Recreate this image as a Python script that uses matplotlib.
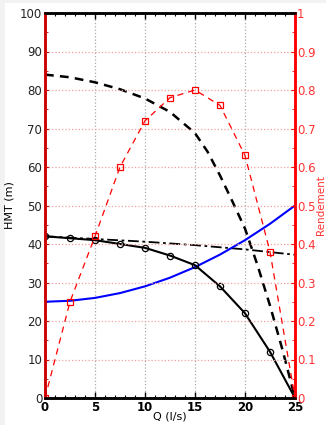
import matplotlib
matplotlib.use("Agg")
import matplotlib.pyplot as plt
from matplotlib.patches import Rectangle

# pump curve (measured points)
q_pts = [0, 2.5, 5, 7.5, 10, 12.5, 15, 17.5, 20, 22.5, 25]
hmt_pump = [42, 41.5, 41, 40, 39, 37, 34.5, 29, 22, 12, 0]

# efficiency
rend = [0, 0.25, 0.42, 0.60, 0.72, 0.78, 0.80, 0.76, 0.63, 0.38, 0]

# system curve
hmt_reseau = [25, 25.25, 26, 27.25, 29, 31.25, 34, 37.25, 41, 45.25, 50]

# dashed black curve
q_dash = [0, 2.5, 5, 7.5, 10, 12.5, 15, 16.25, 17.5, 18.75, 20, 21.25, 22.5, 23.75, 25]
hmt_dash = [84, 83.3, 82, 80.2, 77.8, 74.3, 68.8, 64, 57.8, 51, 44, 34.5, 24, 12.5, 0]

# dash-dot black curve
q_dd = [0, 5, 10, 15, 20, 25]
hmt_dd = [42, 41.3, 40.6, 39.7, 38.6, 37.2]

fig = plt.figure(figsize=(3.26, 4.25), dpi=100)
fig.patch.set_facecolor("#f2f2f2")
fig.add_artist(Rectangle((5 / 326, 0), 1, 1 - 3 / 425, transform=fig.transFigure,
                         facecolor="white", edgecolor="none", zorder=-10))

ax = fig.add_axes([45 / 326, 1 - 398 / 425, 250 / 326, 385 / 425])
ax2 = ax.twinx()

ax.plot(q_dash, hmt_dash, color="black", lw=1.8, ls=(0, (3.5, 2.5)))
ax.plot(q_dd, hmt_dd, color="black", lw=1.3, ls=(0, (6, 2, 1.5, 2)))
ax.plot(q_pts, hmt_reseau, color="#0000ff", lw=1.5)
ax.plot(q_pts, hmt_pump, color="black", lw=1.5, marker="o", ms=4.5,
        mfc="none", mec="black", mew=0.9)

ax2.plot(q_pts, rend, color="#ff0000", lw=0.9, ls=(0, (5, 4)), marker="s", ms=4,
         mfc="none", mec="#ff0000", mew=0.9)

ax.set_xlim(0, 25)
ax.set_ylim(0, 100)
ax2.set_ylim(0, 1)

ax.set_xticks([0, 5, 10, 15, 20, 25])
ax.set_xticks(range(0, 26), minor=True)
ax.set_yticks(range(0, 101, 10))
ax.set_yticks(range(0, 101, 5), minor=True)
ax2.set_yticks([i / 10 for i in range(11)])
ax2.set_yticklabels(["0", "0.1", "0.2", "0.3", "0.4", "0.5", "0.6", "0.7", "0.8", "0.9", "1"])
ax2.set_yticks([i / 20 for i in range(21)], minor=True)

ax.xaxis.grid(True, color="#aaaaaa", ls=":", lw=0.9)
ax2.yaxis.grid(True, color="#f4a0a0", ls=":", lw=0.9)

ax.tick_params(axis="x", which="both", direction="in", top=True, colors="black",
               labelsize=8.5, pad=2)
ax.tick_params(axis="x", which="major", length=4, width=1)
ax.tick_params(axis="x", which="minor", length=2, width=0.8)
for lab in ax.get_xticklabels():
    lab.set_fontweight("bold")
ax.tick_params(axis="y", which="both", direction="in", color="#cc0000",
               labelcolor="#222222", labelsize=8.5, pad=2)
ax.tick_params(axis="y", which="major", length=3)
ax.tick_params(axis="y", which="minor", length=2)
ax2.tick_params(axis="y", which="both", direction="in", color="#ff0000",
                labelcolor="#ff3333", labelsize=8.5, pad=1.5)
ax2.tick_params(axis="y", which="major", length=3)
ax2.tick_params(axis="y", which="minor", length=2)

for a in (ax, ax2):
    a.spines["top"].set_linewidth(1.8)
    a.spines["bottom"].set_linewidth(1.8)
    a.spines["left"].set_color("#cc0000")
    a.spines["left"].set_linewidth(1.8)
    a.spines["right"].set_color("#ff0000")
    a.spines["right"].set_linewidth(1.8)

ax.set_xlabel("Q (l/s)", fontsize=8)
ax.set_ylabel("HMT (m)", fontsize=8)
ax2.set_ylabel("Rendement", fontsize=7.5, color="#ff3333")
ax.xaxis.set_label_coords(0.5, -0.034)
ax.yaxis.set_label_coords(-0.12, 0.5)
ax2.yaxis.set_label_coords(1.085, 0.5)

fig.savefig("out.png", dpi=100)
